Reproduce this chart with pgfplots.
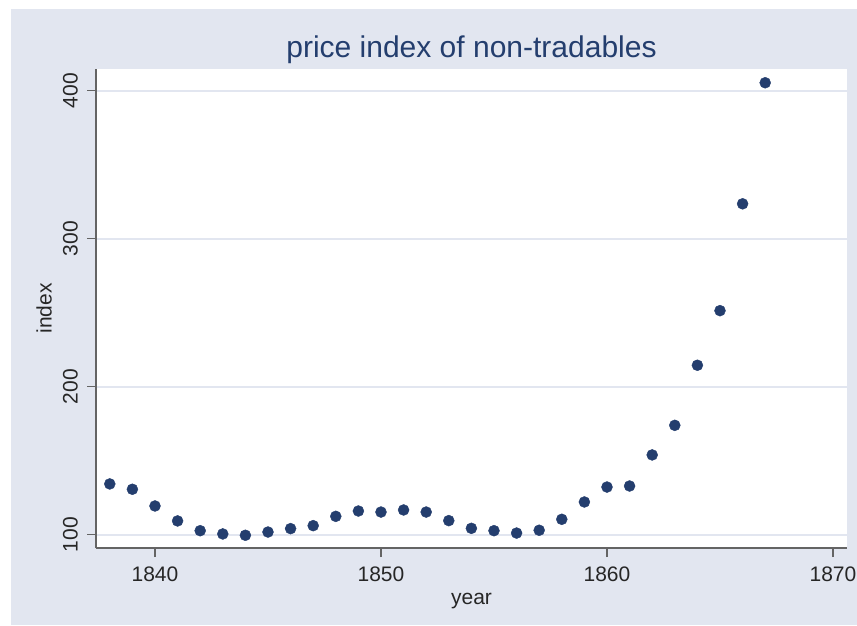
\documentclass[border=0pt]{standalone}
\usepackage{fontspec}
\setmainfont{Liberation Sans}
\usepackage{pgfplots}
\pgfplotsset{compat=1.18}

\definecolor{bgc}{RGB}{226,230,240}
\definecolor{gridc}{RGB}{226,230,240}
\definecolor{navy}{RGB}{36,62,110}
\definecolor{axc}{RGB}{100,100,100}

\begin{document}
\begin{tikzpicture}[x=1pt,y=1pt]
  % page and graph region
  \fill[white] (-96,-77) rectangle (761,548);
  \fill[bgc] (-85,-77) rectangle (761,539);
  \begin{axis}[
      at={(0,0)}, anchor=south west,
      scale only axis,
      width=751pt, height=479pt,
      xmin=1837.39, xmax=1870.62,
      ymin=91.0, ymax=414.7,
      axis background/.style={fill=white},
      axis x line*=bottom, axis y line*=left,
      axis line style={draw=axc, line width=1.8pt},
      xtick={1840,1850,1860,1870},
      ytick={100,200,300,400},
      tick align=outside,
      major tick length=9pt,
      tick style={draw=axc, line width=1.2pt},
      ymajorgrids,
      major grid style={draw=gridc, line width=2pt},
      /pgf/number format/assume math mode=true,
      /pgf/number format/1000 sep={},
      tick label style={font=\fontsize{21}{25}\selectfont, text=black!85},
      xticklabel style={anchor=north, inner sep=0pt, yshift=-10pt},
      yticklabel style={rotate=90, anchor=south, inner sep=0pt, yshift=9pt},
      every axis title shift=0pt,
      title={price index of non-tradables},
      title style={font=\fontsize{30}{36}\selectfont, text=navy,
        at={(0.5,1)}, anchor=base, yshift=11pt},
      xlabel={year},
      xlabel style={font=\fontsize{21}{25}\selectfont, text=black!85,
        at={(0.5,0)}, anchor=base, yshift=-56pt},
      ylabel={index},
      ylabel style={font=\fontsize{21}{25}\selectfont, text=black!85,
        at={(0,0.5)}, anchor=center, yshift=52pt},
      clip=false,
    ]
    \addplot[only marks, mark=*, mark size=5.5pt, color=navy] coordinates {
      (1838,134.3) (1839,130.7) (1840,119.4) (1841,109.3) (1842,102.7)
      (1843,100.5) (1844,99.6) (1845,101.8) (1846,104.1) (1847,106.1)
      (1848,112.4) (1849,116.0) (1850,115.3) (1851,116.7) (1852,115.3)
      (1853,109.5) (1854,104.3) (1855,102.7) (1856,101.1) (1857,103.0)
      (1858,110.4) (1859,122.1) (1860,132.2) (1861,132.9) (1862,153.9)
      (1863,173.9) (1864,214.5) (1865,251.4) (1866,323.6) (1867,405.4)
    };
  \end{axis}
  \pgfresetboundingbox
  \useasboundingbox (-96,-77) rectangle (761,548);
\end{tikzpicture}
\end{document}
